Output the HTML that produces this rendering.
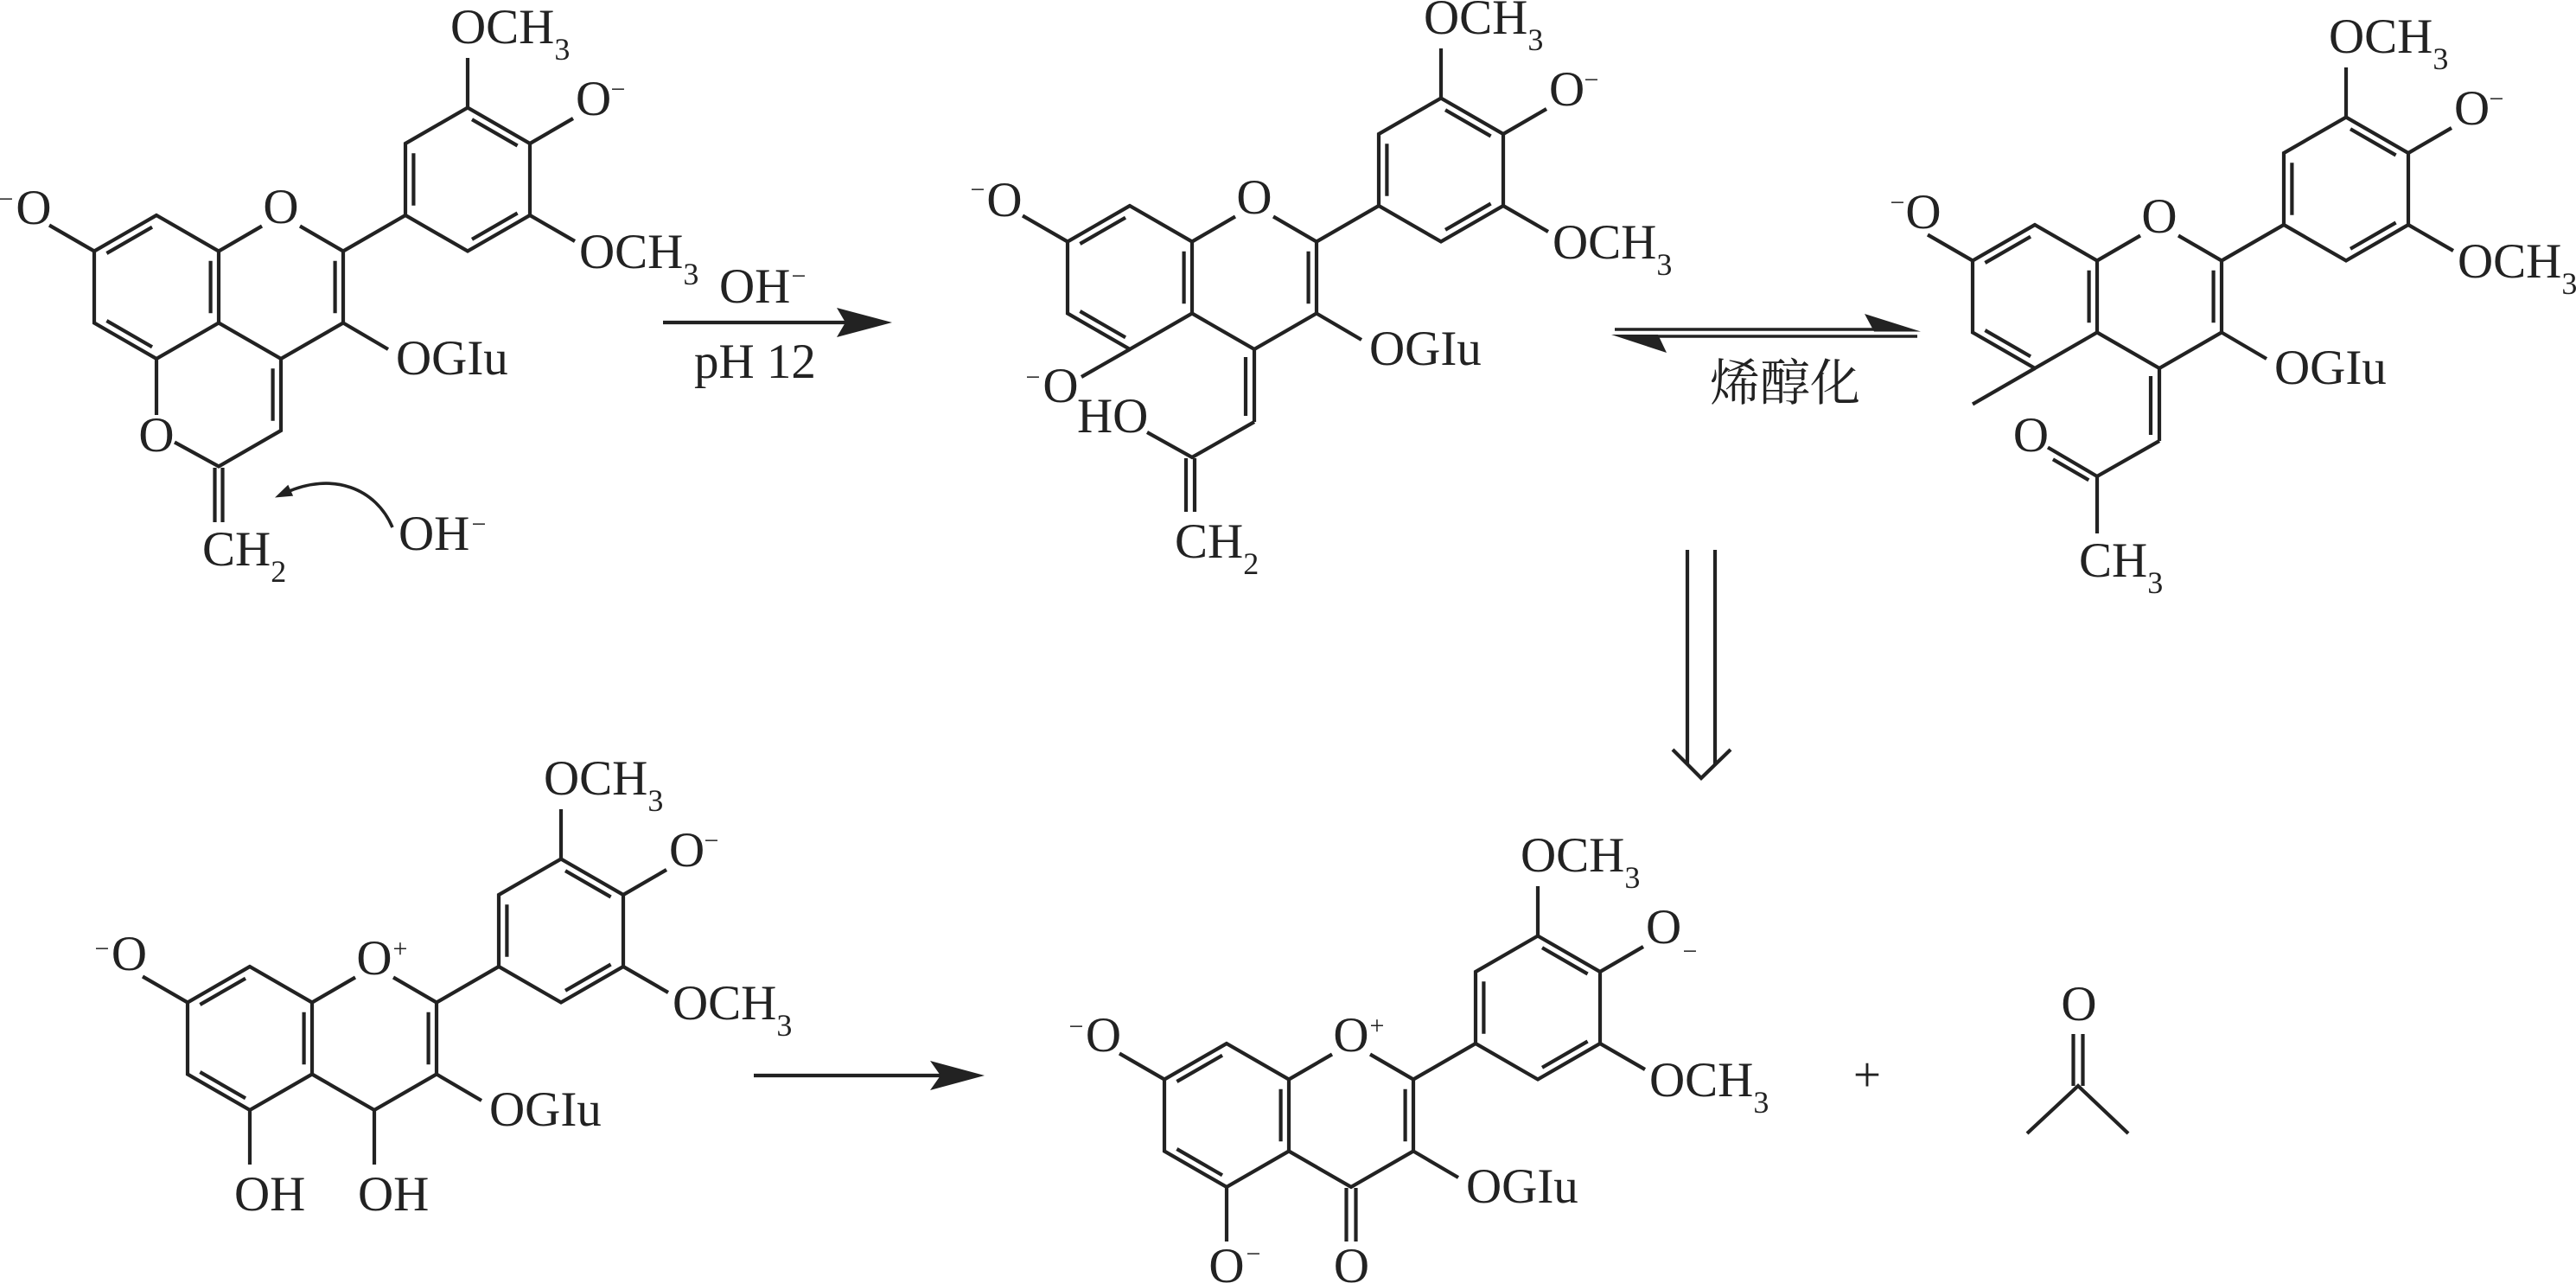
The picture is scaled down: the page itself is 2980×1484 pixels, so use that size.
<!DOCTYPE html>
<html>
<head>
<meta charset="utf-8">
<style>
html,body{margin:0;padding:0;background:#fff;width:2980px;height:1484px;overflow:hidden}
svg{display:block}
.t text{font-family:"Liberation Serif","Noto Serif CJK SC",serif;font-size:57px;fill:#222}
.t text.m{font-size:30px;text-anchor:middle}
.t tspan.s{font-size:36px}
.b{fill:none;stroke:#222;stroke-width:4.2;stroke-linejoin:miter;stroke-linecap:butt}
.f{fill:#222;stroke:none}
</style>
</head>
<body>
<svg width="2980" height="1484" viewBox="0 0 2980 1484" xmlns="http://www.w3.org/2000/svg">
<defs>
<g id="sk" class="b">
<polygon points="0,-83 -72,-41.5 -72,41.5 0,83 72,41.5 72,-41.5"/>
<line x1="72" y1="-41.5" x2="122" y2="-70.5"/>
<polyline points="166,-70.5 216,-41.5 216,41.5 144,83 72,41.5"/>
<polygon points="288,-83 288,-166 360,-207.5 432,-166 432,-83 360,-41.5"/>
<line x1="216" y1="-41.5" x2="288" y2="-83"/>
<path d="M-5,-69.3L-57.6,-39M-57.6,39L-5,69.3M62.6,30.3L62.6,-30.3M206.6,30.3L206.6,-30.3M297.4,-94.2L297.4,-154.8M365,-193.8L417.6,-163.5M417.6,-85.5L365,-55.2"/>
<path d="M-72,-41.5L-124,-71.5M216,41.5L268,72M360,-207.5L360,-265M432,-166L482,-195M432,-83L484,-53"/>
</g>
</defs>
<rect width="2980" height="1484" fill="#fff"/>

<!-- skeletons -->
<use href="#sk" x="181" y="332"/>
<use href="#sk" x="1307" y="321"/>
<use href="#sk" x="2354" y="343"/>
<use href="#sk" x="289" y="1201"/>
<use href="#sk" x="1419" y="1290"/>

<!-- molecule-specific bonds -->
<g class="b" transform="translate(181,332)">
<line x1="0" y1="83" x2="0" y2="148"/>
<polyline points="21,179.5 72,207.5 144,166 144,83"/>
<line x1="134.6" y1="94.2" x2="134.6" y2="154.8"/>
<path d="M67.5,209V272M76.5,209V272"/>
</g>
<g class="b" transform="translate(1307,321)">
<line x1="0" y1="83" x2="-56" y2="115"/>
<line x1="144" y1="83" x2="144" y2="167"/>
<line x1="134" y1="92" x2="134" y2="160"/>
<polyline points="20,179 72,208 144,167"/>
<path d="M65,209V271M75,209V271"/>
</g>
<g class="b" transform="translate(2354,343)">
<line x1="0" y1="83" x2="-72" y2="124.5"/>
<line x1="144" y1="83" x2="144" y2="167"/>
<line x1="134" y1="92" x2="134" y2="160"/>
<polyline points="15,174.5 72,208 144,167"/>
<line x1="62.3" y1="212.3" x2="20.9" y2="188.3"/>
<line x1="72" y1="208" x2="72" y2="274"/>
</g>
<g class="b" transform="translate(289,1201)">
<path d="M0,83V146M144,83V146"/>
</g>
<g class="b" transform="translate(1419,1290)">
<path d="M0,83V146M138.5,84V146M149.5,84V146"/>
</g>

<!-- arrows -->
<g class="b">
<line x1="767" y1="373" x2="980" y2="373"/>
<line x1="1868" y1="381" x2="2172" y2="381" style="stroke-width:3.6"/>
<line x1="1918" y1="389" x2="2218" y2="389" style="stroke-width:3.6"/>
<path d="M1952,636V884M1984,636V884M1935,867L1968,900L2002,867"/>
<line x1="872" y1="1244" x2="1092" y2="1244"/>
<path d="M2398.5,1196V1256M2409.5,1196V1256M2345,1311L2404,1256L2462,1311"/>
<path d="M454,610 C435,565 385,545 330,570" style="stroke-width:3.6"/>
</g>
<polygon class="f" points="1032,373 968,356 978,373 968,390"/>
<polygon class="f" points="2222,383.5 2157,363 2168,383.5"/>
<polygon class="f" points="1864,387 1928,408 1918,387"/>
<polygon class="f" points="1139,1244 1076,1227 1088,1244 1076,1261"/>
<polygon class="f" points="318,575.5 333.3,560.8 339.1,573.6"/>

<!-- text -->
<g class="t">
<!-- mol1 -->
<g transform="translate(181,332)">
<text x="144" y="-74" text-anchor="middle">O</text>
<text x="-142" y="-73" text-anchor="middle">O</text>
<text class="m" x="-174" y="-92">−</text>
<text x="277" y="101">OGIu</text>
<text x="340" y="-282">OCH<tspan class="s" dy="19">3</tspan></text>
<text x="485" y="-199">O</text>
<text class="m" x="534" y="-219">−</text>
<text x="489" y="-22">OCH<tspan class="s" dy="19">3</tspan></text>
<text x="0" y="190" text-anchor="middle">O</text>
<text x="53" y="322">CH<tspan class="s" dy="19">2</tspan></text>
</g>
<text x="461" y="636">OH</text>
<text class="m" x="554" y="616">−</text>
<text x="832" y="350">OH</text>
<text class="m" x="924" y="329">−</text>
<text x="803" y="437">pH 12</text>

<!-- mol2 -->
<g transform="translate(1307,321)">
<text x="144" y="-74" text-anchor="middle">O</text>
<text x="-145" y="-71" text-anchor="middle">O</text>
<text class="m" x="-176" y="-92">−</text>
<text x="277" y="101">OGIu</text>
<text x="340" y="-282">OCH<tspan class="s" dy="19">3</tspan></text>
<text x="485" y="-199">O</text>
<text class="m" x="534" y="-219">−</text>
<text x="489" y="-22">OCH<tspan class="s" dy="19">3</tspan></text>
<text x="-80" y="144" text-anchor="middle">O</text>
<text class="m" x="-112" y="125">−</text>
<text x="-61" y="179">HO</text>
<text x="52" y="324">CH<tspan class="s" dy="19">2</tspan></text>
</g>

<text x="1978" y="463" style="font-family:'Liberation Serif','Noto Serif CJK SC',serif;font-size:58px">烯醇化</text>

<!-- mol3 -->
<g transform="translate(2354,343)">
<text x="144" y="-74" text-anchor="middle">O</text>
<text x="-129" y="-79" text-anchor="middle">O</text>
<text class="m" x="-159" y="-99">−</text>
<text x="277" y="101">OGIu</text>
<text x="340" y="-282">OCH<tspan class="s" dy="19">3</tspan></text>
<text x="485" y="-199">O</text>
<text class="m" x="534" y="-219">−</text>
<text x="489" y="-22">OCH<tspan class="s" dy="19">3</tspan></text>
<text x="-4.5" y="179" text-anchor="middle">O</text>
<text x="51" y="324">CH<tspan class="s" dy="19">3</tspan></text>
</g>

<!-- mol4 -->
<g transform="translate(289,1201)">
<text x="144" y="-74" text-anchor="middle">O</text>
<text class="m" x="174" y="-94">+</text>
<text x="-139.5" y="-79" text-anchor="middle">O</text>
<text class="m" x="-171" y="-94">−</text>
<text x="277" y="101">OGIu</text>
<text x="340" y="-282">OCH<tspan class="s" dy="19">3</tspan></text>
<text x="485" y="-199">O</text>
<text class="m" x="534" y="-219">−</text>
<text x="489" y="-22">OCH<tspan class="s" dy="19">3</tspan></text>
<text x="-18" y="199">OH</text>
<text x="125" y="199">OH</text>
</g>

<!-- mol5 -->
<g transform="translate(1419,1290)">
<text x="144" y="-74" text-anchor="middle">O</text>
<text class="m" x="174" y="-94">+</text>
<text x="-142.5" y="-74" text-anchor="middle">O</text>
<text class="m" x="-174" y="-93">−</text>
<text x="277" y="101">OGIu</text>
<text x="340" y="-282">OCH<tspan class="s" dy="19">3</tspan></text>
<text x="485" y="-199">O</text>
<text class="m" x="536" y="-180">−</text>
<text x="489" y="-22">OCH<tspan class="s" dy="19">3</tspan></text>
<text x="0" y="193" text-anchor="middle">O</text>
<text class="m" x="31" y="170">−</text>
<text x="144.5" y="193" text-anchor="middle">O</text>
</g>

<text x="2160" y="1262" text-anchor="middle">+</text>
<text x="2405" y="1180" text-anchor="middle">O</text>
</g>
</svg>
</body>
</html>
